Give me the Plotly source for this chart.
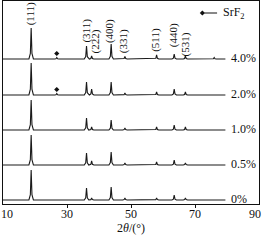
import plotly.graph_objects as go

# ---- data ----
peak_names = ["(111)", "SrF2", "(311)", "(222)", "(400)", "(331)", "(511)", "(440)", "(531)", "(533)"]
peak_pos = [18.8, 26.8, 36.1, 37.7, 43.8, 48.1, 58.0, 63.5, 67.0, 76.0]
series_labels = ["0%", "0.5%", "1.0%", "2.0%", "4.0%"]
intens_0 = [30, 0, 12, 2, 13, 2, 2, 5, 2, 0.5]
intens_05 = [30, 0, 12, 4, 13, 2, 3, 5, 2, 0.5]
intens_10 = [30, 0, 12, 3, 10, 2, 3, 5, 3, 0.5]
intens_20 = [32, 1.5, 13, 6, 13, 2, 3, 6, 3, 0.5]
intens_40 = [31, 1.5, 13, 3, 15, 2.5, 4, 5, 3, 1.5]
intensities = [intens_0, intens_05, intens_10, intens_20, intens_40]
offsets = [4, 39, 74, 109, 145]
srf2_marked = [False, False, False, True, True]
x_start, x_end = 10, 79.5
x_ticks = [30, 50, 70]
x_edge_ticks = ["10", "90"]

hkl_labels = ["(111)", "(311)", "(222)", "(400)", "(331)", "(511)", "(440)", "(531)"]
hkl_x = [18.7, 35.8, 38.9, 43.3, 47.7, 57.6, 63.2, 67.0]
hkl_y = [190.5, 173, 163, 172.5, 162.5, 164.5, 169, 160]

FONT = "Liberation Serif"
LINE = "#1a1a1a"

def profile(pos, heights, base):
    xs, ys = [x_start], [base]
    for p, h in sorted(zip(pos, heights)):
        if h <= 0:
            continue
        xs += [p - 0.7, p - 0.25, p, p + 0.25, p + 0.7]
        ys += [base, base + 0.18 * h, base + h, base + 0.18 * h, base]
    xs.append(x_end)
    ys.append(base)
    return xs, ys

fig = go.Figure()
for lab, inten, off, mk in zip(series_labels, intensities, offsets, srf2_marked):
    xs, ys = profile(peak_pos, inten, off)
    fig.add_trace(go.Scatter(x=xs, y=ys, mode="lines", line=dict(color=LINE, width=1.1),
                             showlegend=False, hoverinfo="skip"))
    fig.add_annotation(x=x_end + 1.0, y=off + 1, text=lab, showarrow=False, xanchor="left",
                       yanchor="middle", font=dict(family=FONT, size=12, color="#111"))
    if mk:
        fig.add_trace(go.Scatter(x=[peak_pos[1]], y=[off + 5.5], mode="markers",
                                 marker=dict(symbol="diamond", size=4, color="#111"),
                                 showlegend=False, hoverinfo="skip"))

for t, x, y in zip(hkl_labels, hkl_x, hkl_y):
    fig.add_annotation(x=x, y=y, text=t, textangle=-90, showarrow=False,
                       font=dict(family=FONT, size=11, color="#111"))

# legend
fig.add_trace(go.Scatter(x=[72.3], y=[191], mode="markers",
                         marker=dict(symbol="diamond", size=4, color="#111"),
                         showlegend=False, hoverinfo="skip"))
fig.add_shape(type="line", x0=72.9, x1=76.9, y0=191, y1=191, line=dict(color="#111", width=1))
fig.add_annotation(x=78.0, y=191, text="SrF<sub>2</sub>", showarrow=False, xanchor="left",
                   font=dict(family=FONT, size=12, color="#111"))

# tick labels at the plot edges (kept inside the page)
fig.add_annotation(x=0, y=0, xref="paper", yref="paper", text=x_edge_ticks[0], showarrow=False,
                   xanchor="left", yanchor="top", font=dict(family=FONT, size=12, color="#111"),
                   xshift=-4, yshift=-1)
fig.add_annotation(x=1, y=0, xref="paper", yref="paper", text=x_edge_ticks[1], showarrow=False,
                   xanchor="right", yanchor="top", font=dict(family=FONT, size=12, color="#111"),
                   xshift=4, yshift=-1)

fig.update_layout(
    width=262, height=242,
    margin=dict(l=3, r=3, t=1, b=38),
    paper_bgcolor="white", plot_bgcolor="white",
    font=dict(family=FONT, size=12, color="#111"),
    xaxis=dict(range=[10, 90], tickvals=x_ticks, ticktext=[str(v) for v in x_ticks],
               ticks="outside", ticklen=3, tickcolor="#111", showline=True, linecolor="#111",
               linewidth=1, mirror=True, showgrid=False, zeroline=False, ticklabelstandoff=-4,
               title=dict(text="2<i>θ</i>/(°)", standoff=0, font=dict(family=FONT, size=12)),
               tickfont=dict(family=FONT, size=12)),
    yaxis=dict(range=[0, 203], showticklabels=False, ticks="", showline=True, linecolor="#111",
               linewidth=1, mirror=True, showgrid=False, zeroline=False),
)

fig.write_html("out.html")
